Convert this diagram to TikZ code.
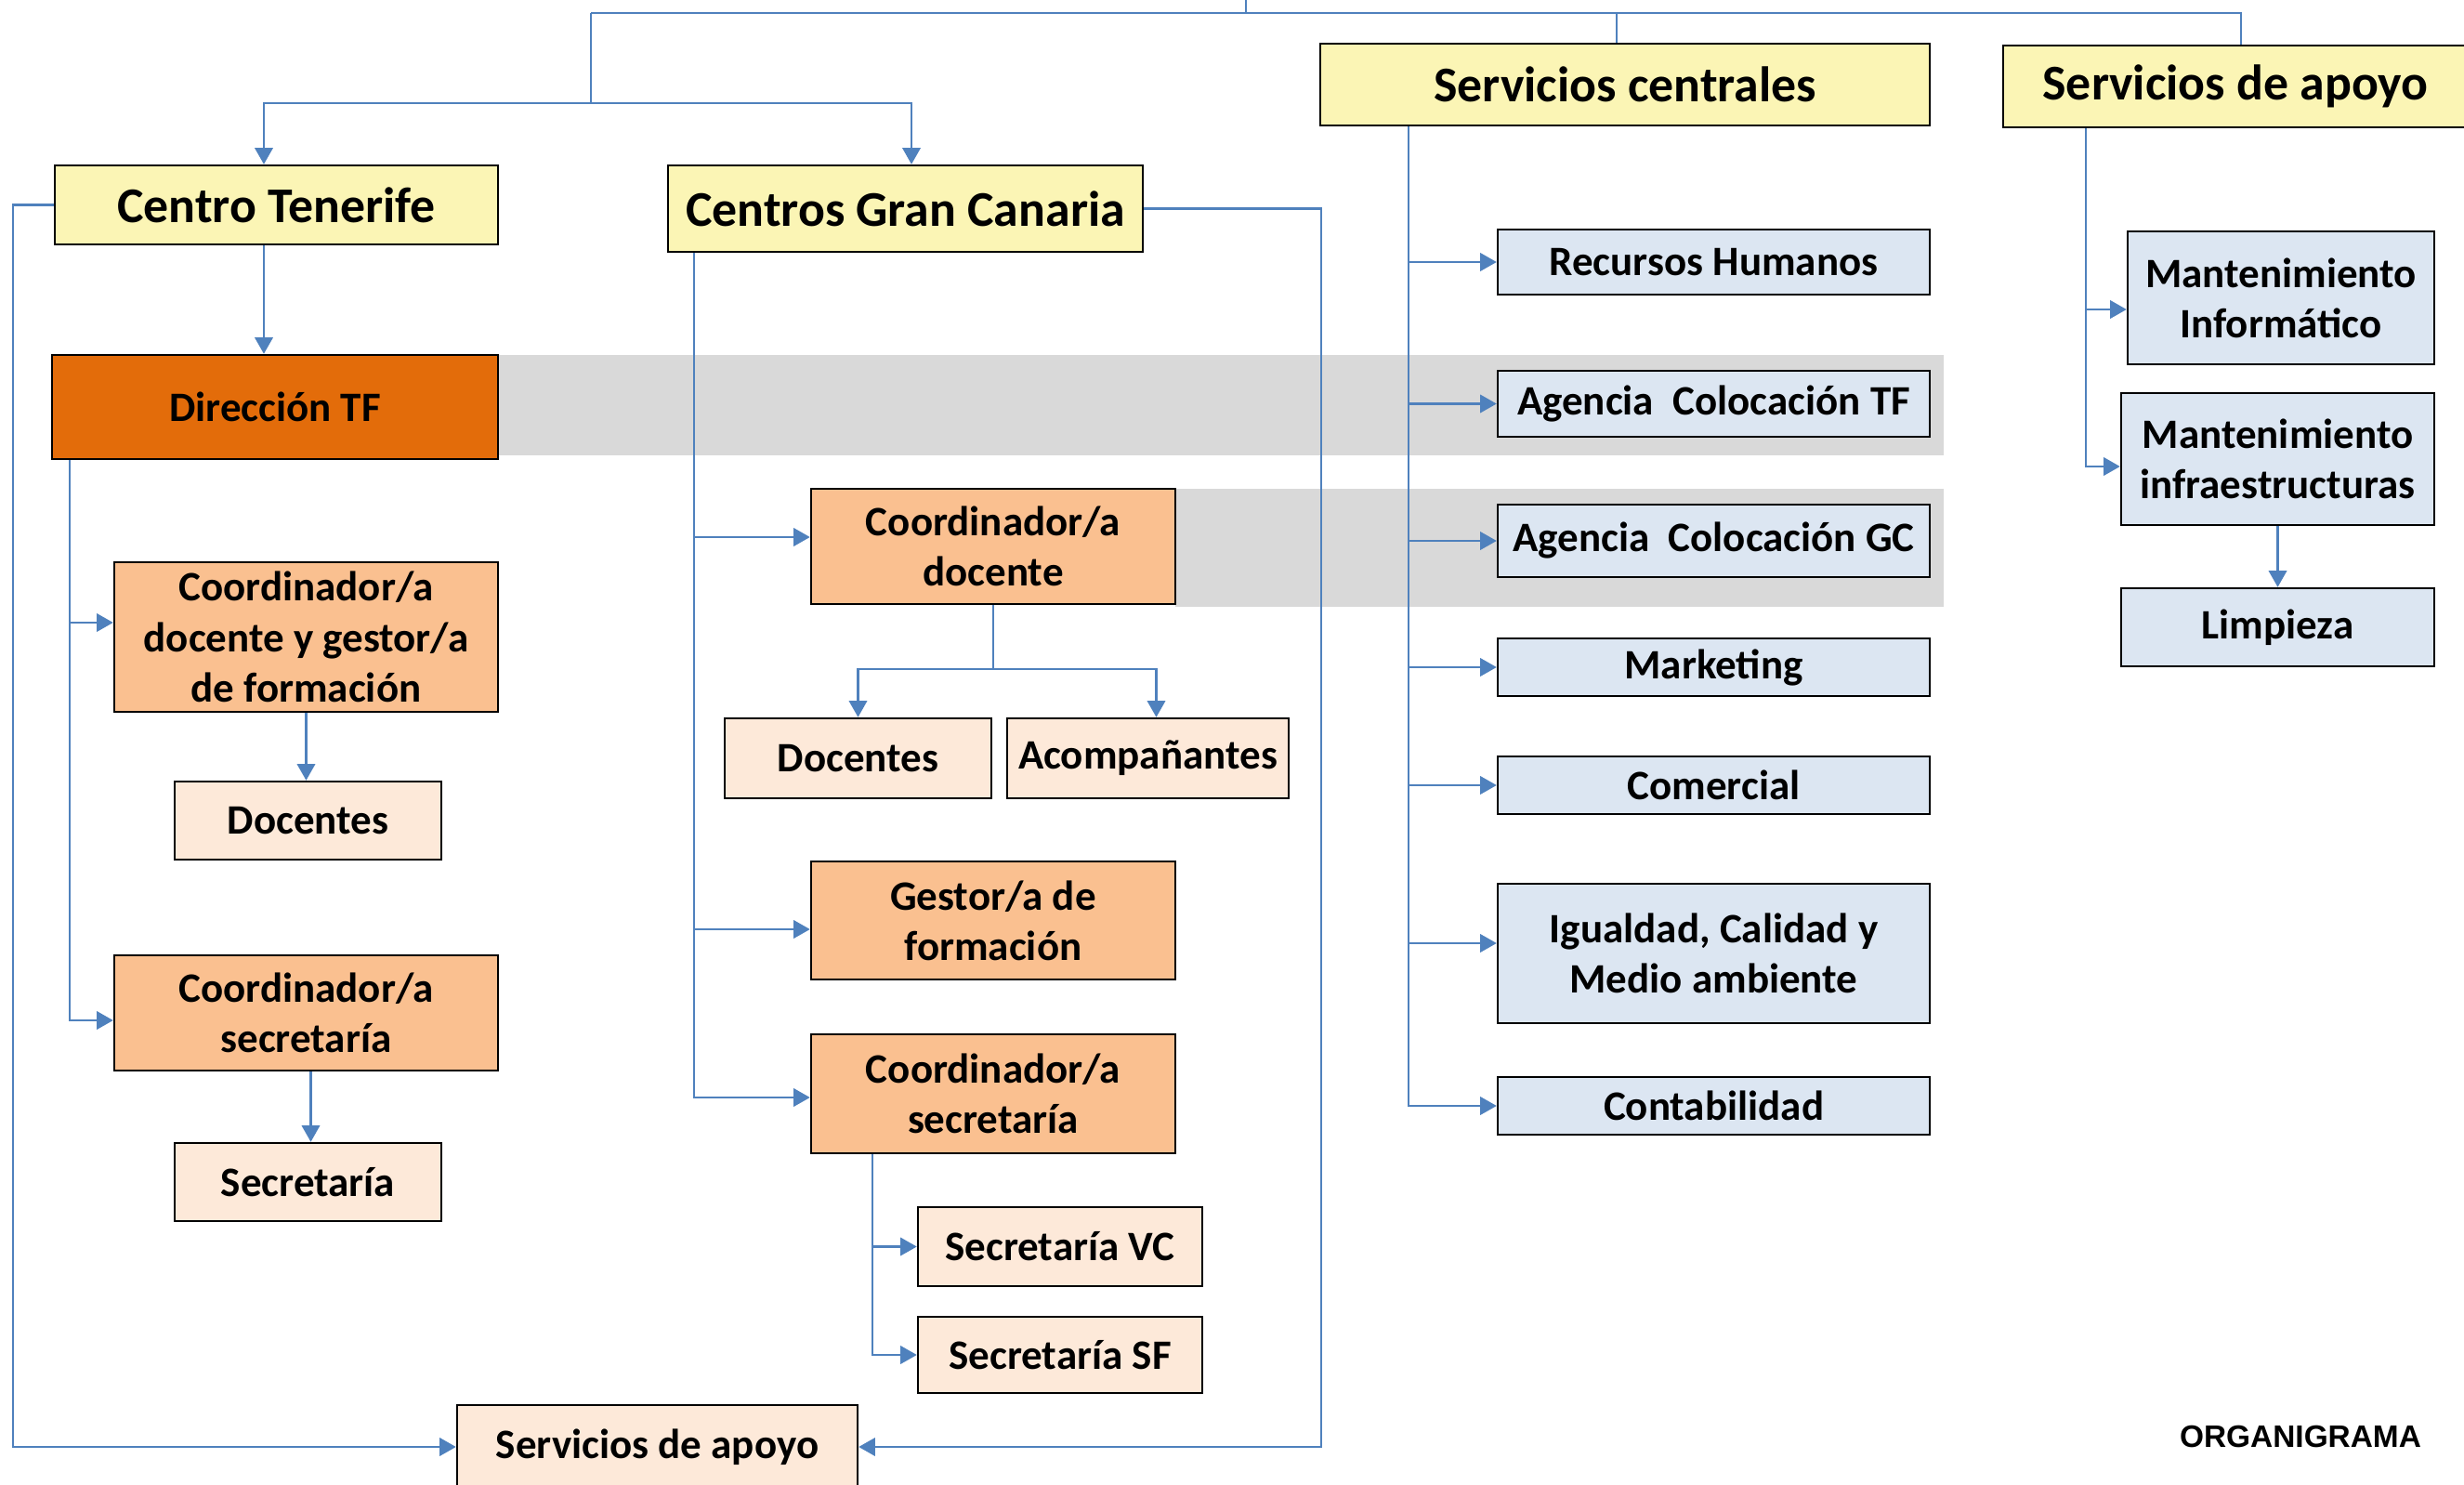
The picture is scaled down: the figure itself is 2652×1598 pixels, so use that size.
\documentclass[tikz,border=0pt]{standalone}
\usepackage{fontspec}
\setmainfont{Carlito}
\newfontfamily\arialfont{Liberation Sans}
\usetikzlibrary{arrows.meta}

\definecolor{headyellow}{HTML}{FBF5B5}
\definecolor{diroran}{HTML}{E36C0A}
\definecolor{midoran}{HTML}{FAC090}
\definecolor{lightoran}{HTML}{FDE9D9}
\definecolor{paleblue}{HTML}{DCE6F2}
\definecolor{bandgray}{HTML}{D9D9D9}
\definecolor{linkblue}{HTML}{4F81BD}

\tikzset{
  wh/.style 2 args={minimum width=#1*0.01cm, minimum height=#2*0.01cm},
  box/.style={draw=black, line width=0.7pt, inner sep=0pt, align=center,
    font=\fontsize{12.8}{15.4}\selectfont\bfseries},
  head/.style={box, fill=headyellow, font=\fontsize{15.3}{18}\selectfont\bfseries},
  dir/.style={box, fill=diroran},
  coord/.style={box, fill=midoran},
  staff/.style={box, fill=lightoran},
  serv/.style={box, fill=paleblue},
  conn/.style={draw=linkblue, line width=0.65pt},
  arr/.style={conn, -{Triangle[length=5pt,width=5.5pt]}},
}

\begin{document}
\begin{tikzpicture}[x=0.01cm, y=-0.01cm]
  \useasboundingbox (0,0) rectangle (2652,1598);

  % grey bands behind the rows
  \fill[bandgray] (536,382) rectangle (2092,490);
  \fill[bandgray] (1265,526) rectangle (2092,653);

  % top level
  \node[head, wh={477}{85}] (ct) at (297.5,220.5) {Centro Tenerife};
  \node[head, wh={511}{93}] (cgc) at (974.5,224.5) {Centros Gran Canaria};
  \node[head, wh={656}{88}] (sc) at (1749,91) {Servicios centrales};
  \node[head, wh={500}{88}] (sa) at (2406,93) {Servicios de apoyo};

  % Tenerife
  \node[dir, wh={480}{112}] (dtf) at (296,438) {Dirección TF};
  \node[coord, wh={413}{161}] (cdtf) at (329.5,685.5) {Coordinador/a\\docente y gestor/a\\de formación};
  \node[staff, wh={287}{84}] (doctf) at (331.5,883) {Docentes};
  \node[coord, wh={413}{124}] (cstf) at (329.5,1090) {Coordinador/a\\secretaría};
  \node[staff, wh={287}{84}] (sectf) at (331.5,1272) {Secretaría};
  \node[staff, wh={431}{90}] (sab) at (707.5,1557) {Servicios de apoyo};

  % Gran Canaria
  \node[coord, wh={392}{124}] (cdgc) at (1069,588) {Coordinador/a\\docente};
  \node[staff, wh={287}{86}] (docgc) at (923.5,816) {Docentes};
  \node[staff, wh={303}{86}] (acomp) at (1235.5,816) {Acompañantes};
  \node[coord, wh={392}{127}] (gest) at (1069,990.5) {Gestor/a de\\formación};
  \node[coord, wh={392}{128}] (csgc) at (1069,1177) {Coordinador/a\\secretaría};
  \node[staff, wh={306}{85}] (svc) at (1141,1341.5) {Secretaría VC};
  \node[staff, wh={306}{82}] (ssf) at (1141,1458) {Secretaría SF};

  % servicios centrales
  \node[serv, wh={465}{70}] (rh) at (1844.5,282) {Recursos Humanos};
  \node[serv, wh={465}{71}] (actf) at (1844.5,434.5) {Agencia~~Colocación TF};
  \node[serv, wh={465}{78}] (acgc) at (1844.5,582) {Agencia~~Colocación GC};
  \node[serv, wh={465}{62}] (mkt) at (1844.5,718) {Marketing};
  \node[serv, wh={465}{62}] (com) at (1844.5,845) {Comercial};
  \node[serv, wh={465}{150}] (igu) at (1844.5,1026) {Igualdad, Calidad y\\Medio ambiente};
  \node[serv, wh={465}{62}] (cont) at (1844.5,1190) {Contabilidad};

  % servicios de apoyo
  \node[serv, wh={330}{143}] (mi) at (2455,320.5) {Mantenimiento\\Informático};
  \node[serv, wh={337}{142}] (minf) at (2451.5,494) {Mantenimiento\\infraestructuras};
  \node[serv, wh={337}{84}] (limp) at (2451.5,675) {Limpieza};

  \node[font=\arialfont\fontsize{9.5}{11}\selectfont\bfseries] (title) at (2476,1546) {ORGANIGRAMA};

  % top bus
  \coordinate (root) at (1341,0);
  \coordinate (busL) at (636,14);
  \draw[conn] (root) -- (root |- busL);
  \draw[conn] (busL) -- ([xshift=0.06cm]sa.north |- busL) -- ([xshift=0.06cm]sa.north);
  \draw[conn] ([xshift=-0.09cm]sc.north) -- ([xshift=-0.09cm]sc.north |- busL);
  \draw[conn] (busL) -- ++(0,97) coordinate (split);
  \draw[arr] (split) -| ([xshift=-0.135cm]ct.north);
  \draw[arr] (split) -| ([xshift=0.065cm]cgc.north);

  % loops to servicios de apoyo
  \draw[arr] (ct.west) -- ++(-44,0) |- (sab.west);
  \draw[arr] (cgc.east) -- ++(191,0) |- (sab.east);

  % Tenerife links
  \draw[arr] ([xshift=-0.135cm]ct.south) -- ([xshift=-0.135cm]ct.south |- dtf.north);
  \draw[arr] ([xshift=0.2cm]dtf.south west) |- ([yshift=0.155cm]cdtf.west);
  \draw[arr] ([xshift=0.2cm]dtf.south west) |- ([yshift=-0.08cm]cstf.west);
  \draw[arr] (cdtf.south) -- (cdtf.south |- doctf.north);
  \draw[arr] ([xshift=0.05cm]cstf.south) -- ([xshift=0.05cm]cstf.south |- sectf.north);

  % Gran Canaria links
  \draw[arr] ([xshift=0.29cm]cgc.south west) |- ([yshift=0.1cm]cdgc.west);
  \draw[arr] ([xshift=0.29cm]cgc.south west) |- ([yshift=-0.095cm]gest.west);
  \draw[arr] ([xshift=0.29cm]cgc.south west) |- ([yshift=-0.04cm]csgc.west);
  \draw[conn] (cdgc.south) -- ++(0,69) coordinate (fork);
  \draw[arr] (fork) -| (docgc.north);
  \draw[arr] (fork) -| ([xshift=0.09cm]acomp.north);
  \foreach \n in {svc,ssf}
    \draw[arr] ([xshift=0.67cm]csgc.south west) |- (\n.west);

  % servicios links
  \foreach \n in {rh,actf,acgc,mkt,com,cont}
    \draw[arr] ([xshift=0.96cm]sc.south west) |- (\n.west);
  \draw[arr] ([xshift=0.96cm]sc.south west) |- ([yshift=0.11cm]igu.west);
  \draw[arr] ([xshift=0.9cm]sa.south west) |- ([yshift=-0.125cm]mi.west);
  \draw[arr] ([xshift=0.9cm]sa.south west) |- ([yshift=-0.08cm]minf.west);
  \draw[arr] (minf.south) -- (limp.north);
\end{tikzpicture}
\end{document}
